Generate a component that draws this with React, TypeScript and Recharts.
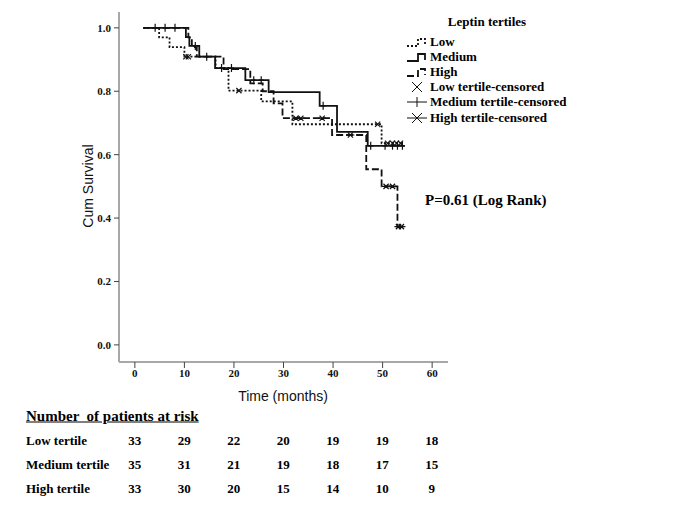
import React from "react";
import { ComposedChart, Line, XAxis, YAxis } from "recharts";

// survival curves (time in months, cumulative survival)
const lowTimes = [1.7, 4.9, 7.0, 10.0, 16.3, 18.9, 25.5, 31.8, 49.8, 54.0];
const lowSurv = [1.0, 0.970, 0.939, 0.909, 0.874, 0.802, 0.768, 0.696, 0.636, 0.636];
const medTimes = [1.7, 10.3, 11.0, 13.0, 16.2, 22.3, 27.0, 37.3, 40.8, 47.0, 54.5];
const medSurv = [1.0, 0.971, 0.943, 0.909, 0.873, 0.835, 0.797, 0.754, 0.672, 0.628, 0.628];
const highTimes = [1.7, 10.8, 11.5, 12.5, 17.9, 23.3, 25.8, 28.0, 29.8, 39.8, 46.7, 49.8, 53.0, 53.8];
const highSurv = [1.0, 0.970, 0.939, 0.909, 0.870, 0.825, 0.800, 0.762, 0.715, 0.662, 0.554, 0.500, 0.373, 0.373];

// censored observations
const lowCensT = [10.3, 10.8, 21.0, 49.0, 51.0, 52.0, 52.8, 53.6];
const lowCensS = [0.909, 0.909, 0.802, 0.696, 0.636, 0.636, 0.636, 0.636];
const medCensT = [4.1, 6.1, 8.1, 12.2, 14.5, 17.5, 19.5, 24.0, 25.5, 38.0, 47.6, 50.5, 52.0, 53.0, 54.0];
const medCensS = [1.0, 1.0, 1.0, 0.943, 0.909, 0.873, 0.873, 0.835, 0.835, 0.754, 0.628, 0.628, 0.628, 0.628, 0.628];
const highCensT = [32.5, 33.5, 37.8, 43.5, 50.7, 52.0, 53.2, 53.8];
const highCensS = [0.715, 0.715, 0.715, 0.662, 0.500, 0.500, 0.373, 0.373];

const xTicks = [0, 10, 20, 30, 40, 50, 60];
const yTicks = [0, 0.2, 0.4, 0.6, 0.8, 1.0];

// number at risk table
const riskRows = ["Low tertile", "Medium tertile", "High tertile"];
const riskLow = [33, 29, 22, 20, 19, 19, 18];
const riskMed = [35, 31, 21, 19, 18, 17, 15];
const riskHigh = [33, 30, 20, 15, 14, 10, 9];

const toPts = (ts: number[], ss: number[]) => ts.map((t, i) => ({ t, s: ss[i] }));

const INK = "#111";
const serif = "'Liberation Serif', 'Times New Roman', serif";
const sans = "'Liberation Sans', Arial, sans-serif";

const crossMark = (cx: number, cy: number, r: number) =>
  `M${cx - r},${cy - r}L${cx + r},${cy + r}M${cx - r},${cy + r}L${cx + r},${cy - r}`;
const plusMark = (cx: number, cy: number, rx: number, ry: number) =>
  `M${cx - rx},${cy}L${cx + rx},${cy}M${cx},${cy - ry}L${cx},${cy + ry}`;

const mkDot = (kind: string) => (p: any) => {
  const { cx, cy, index } = p;
  if (cx == null || cy == null) return <g key={`${kind}-${index}`} />;
  let d = "";
  if (kind === "x") d = crossMark(cx, cy, 2.6);
  else if (kind === "+") d = plusMark(cx, cy, 2.5, 4);
  else d = crossMark(cx, cy, 2.6) + plusMark(cx, cy, 4, 0);
  return <path key={`${kind}-${index}`} d={d} stroke={INK} strokeWidth={1.2} fill="none" />;
};

const legendRows = [
  { label: "Low", kind: "low" },
  { label: "Medium", kind: "med" },
  { label: "High", kind: "high" },
  { label: "Low tertile-censored", kind: "x" },
  { label: "Medium tertile-censored", kind: "+" },
  { label: "High tertile-censored", kind: "*" },
];

function LegendIcon({ kind }: { kind: string }) {
  const step = "M1,10 H12 V3 H19 V9";
  let el: React.ReactNode = null;
  if (kind === "low") el = <path d={step} stroke={INK} strokeWidth={1.8} strokeDasharray="2 2" fill="none" />;
  else if (kind === "med") el = <path d={step} stroke={INK} strokeWidth={1.8} fill="none" />;
  else if (kind === "high") el = <path d={step} stroke={INK} strokeWidth={1.8} strokeDasharray="7 3" fill="none" />;
  else if (kind === "x") el = <path d={crossMark(11, 6, 5)} stroke={INK} strokeWidth={1} fill="none" />;
  else if (kind === "+") el = <path d={plusMark(11, 6, 10, 5)} stroke={INK} strokeWidth={1} fill="none" />;
  else el = <path d={crossMark(11, 6, 5) + plusMark(11, 6, 10, 0)} stroke={INK} strokeWidth={1} fill="none" />;
  return (
    <svg width={22} height={12} style={{ display: "block", marginRight: 2 }}>
      {el}
    </svg>
  );
}

const tickStyle = { fontFamily: serif, fontWeight: 700, fontSize: 11, fill: INK };

export default function App() {
  const riskCols = [riskLow, riskMed, riskHigh];
  return (
    <div style={{ position: "absolute", left: 0, top: 0, width: 685, height: 513, background: "#fff" }}>
      <ComposedChart width={685} height={513} margin={{ top: 12, right: 237, bottom: 0, left: 0 }}>
        <XAxis
          dataKey="t"
          type="number"
          domain={[-3.2, 63.2]}
          allowDataOverflow
          ticks={xTicks}
          interval={0}
          height={151}
          axisLine={{ stroke: "#a8a8a8", strokeWidth: 2 }}
          tickLine={{ stroke: "#444" }}
          tickSize={6}
          tickMargin={1}
          tick={tickStyle}
        />
        <YAxis
          type="number"
          domain={[-0.054, 1.05]}
          allowDataOverflow
          ticks={yTicks}
          interval={0}
          width={119}
          tickFormatter={(v: number) => v.toFixed(1)}
          axisLine={{ stroke: "#a8a8a8", strokeWidth: 2 }}
          tickLine={{ stroke: "#444" }}
          tickSize={5}
          tickMargin={3}
          tick={tickStyle}
        />
        <Line data={toPts(lowTimes, lowSurv)} dataKey="s" type="stepAfter" stroke={INK} strokeWidth={1.8}
          strokeDasharray="2 2" dot={false} activeDot={false} isAnimationActive={false} />
        <Line data={toPts(medTimes, medSurv)} dataKey="s" type="stepAfter" stroke={INK} strokeWidth={1.8}
          dot={false} activeDot={false} isAnimationActive={false} />
        <Line data={toPts(highTimes, highSurv)} dataKey="s" type="stepAfter" stroke={INK} strokeWidth={1.8}
          strokeDasharray="7 3" dot={false} activeDot={false} isAnimationActive={false} />
        <Line data={toPts(lowCensT, lowCensS)} dataKey="s" stroke="none" dot={mkDot("x")}
          activeDot={false} isAnimationActive={false} />
        <Line data={toPts(medCensT, medCensS)} dataKey="s" stroke="none" dot={mkDot("+")}
          activeDot={false} isAnimationActive={false} />
        <Line data={toPts(highCensT, highCensS)} dataKey="s" stroke="none" dot={mkDot("*")}
          activeDot={false} isAnimationActive={false} />
      </ComposedChart>

      {/* axis titles */}
      <div style={{ position: "absolute", left: 88, top: 186, transform: "translate(-50%,-50%) rotate(-90deg)",
        fontFamily: sans, fontSize: 14, whiteSpace: "nowrap", color: INK }}>Cum Survival</div>
      <div style={{ position: "absolute", left: 283, top: 396, transform: "translate(-50%,-50%)",
        fontFamily: sans, fontSize: 14, whiteSpace: "nowrap", color: INK }}>Time (months)</div>

      {/* legend */}
      <div style={{ position: "absolute", left: 487, top: 22, transform: "translate(-50%,-50%)",
        fontFamily: serif, fontWeight: 700, fontSize: 13, whiteSpace: "nowrap" }}>Leptin tertiles</div>
      {legendRows.map((r, i) => (
        <div key={r.label} style={{ position: "absolute", left: 406, top: 34 + i * 15.2, height: 15,
          display: "flex", alignItems: "center", fontFamily: serif, fontWeight: 700, fontSize: 13, whiteSpace: "nowrap" }}>
          <LegendIcon kind={r.kind} />
          <span>{r.label}</span>
        </div>
      ))}

      <div style={{ position: "absolute", left: 425, top: 200, transform: "translateY(-50%)",
        fontFamily: serif, fontWeight: 700, fontSize: 15, whiteSpace: "nowrap" }}>P=0.61 (Log Rank)</div>

      {/* number at risk */}
      <div style={{ position: "absolute", left: 26, top: 416, transform: "translateY(-50%)",
        fontFamily: serif, fontWeight: 700, fontSize: 15, textDecoration: "underline", whiteSpace: "pre" }}>
        Number  of patients at risk
      </div>
      {riskRows.map((name, ri) => (
        <React.Fragment key={name}>
          <div style={{ position: "absolute", left: 26, top: 441 + ri * 23.8, transform: "translateY(-50%)",
            fontFamily: serif, fontWeight: 700, fontSize: 13, whiteSpace: "nowrap" }}>{name}</div>
          {riskCols[ri].map((n, ci) => (
            <div key={ci} style={{ position: "absolute", left: 134.7 + ci * 49.5, top: 441 + ri * 23.8,
              transform: "translate(-50%,-50%)", fontFamily: serif, fontWeight: 700, fontSize: 13 }}>{n}</div>
          ))}
        </React.Fragment>
      ))}
    </div>
  );
}
